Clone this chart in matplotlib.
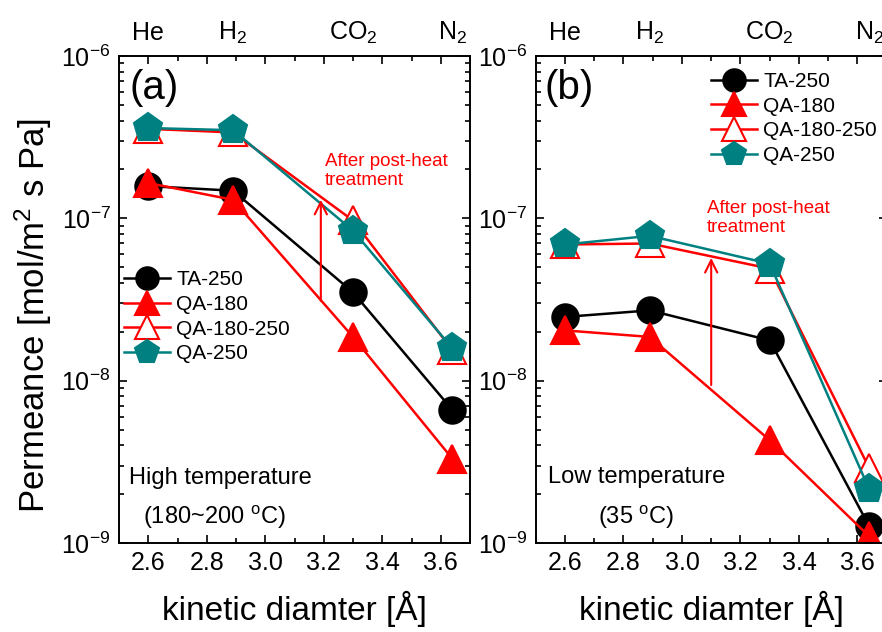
import matplotlib
matplotlib.use("Agg")
import matplotlib.pyplot as plt
from matplotlib.ticker import LogLocator, FuncFormatter, MultipleLocator, NullFormatter
import numpy as np

plt.rcParams['font.family'] = ['Liberation Sans', 'DejaVu Sans']
plt.rcParams['mathtext.fontset'] = 'custom'
plt.rcParams['mathtext.rm'] = 'Liberation Sans'
plt.rcParams['mathtext.it'] = 'Liberation Sans:italic'
plt.rcParams['mathtext.bf'] = 'Liberation Sans:bold'

# ---- data ----
gas_x = [2.6, 2.89, 3.3, 3.64]
gas_labels = ['He', 'H$_2$', 'CO$_2$', 'N$_2$']
series_names = ['TA-250', 'QA-180', 'QA-180-250', 'QA-250']

# (a) high temperature
ta250_a = [1.58e-7, 1.48e-7, 3.5e-8, 6.6e-9]
qa180_a = [1.65e-7, 1.30e-7, 1.86e-8, 3.3e-9]
qa180250_a = [3.56e-7, 3.38e-7, 9.7e-8, 1.54e-8]
qa250_a = [3.60e-7, 3.49e-7, 8.4e-8, 1.58e-8]

# (b) low temperature
ta250_b = [2.47e-8, 2.71e-8, 1.77e-8, 1.27e-9]
qa180_b = [2.04e-8, 1.86e-8, 4.3e-9, 1.1e-9]
qa180250_b = [6.9e-8, 7.0e-8, 4.9e-8, 2.9e-9]
qa250_b = [6.9e-8, 7.8e-8, 5.25e-8, 2.15e-9]

# arrows (x, from, to)
arrow_a = (3.19, 3.1e-8, 1.3e-7)
arrow_b = (3.10, 9.4e-9, 5.7e-8)

styles = [
    dict(color='black', marker='o', ms=19, mfc='black', mec='black'),
    dict(color='red', marker='^', ms=20, mfc='red', mec='red'),
    dict(color='red', marker='^', ms=20, mfc='white', mec='red'),
    dict(color='#008080', marker='p', ms=21, mfc='#008080', mec='#008080'),
]

fig = plt.figure(figsize=(8.82, 6.32), dpi=100)
axw = 351 / 882
axh = 487 / 632
axb = 1 - 543 / 632
ax_a = fig.add_axes([119 / 882, axb, axw, axh])
ax_b = fig.add_axes([535.7 / 882, axb, axw, axh])


def fmt(v, pos):
    if v <= 0:
        return ''
    e = int(round(np.log10(v)))
    return r'$\mathregular{10^{%d}}$' % e


def setup(ax):
    ax.set_yscale('log')
    ax.set_ylim(1e-9, 1e-6)
    ax.set_xlim(2.5, 3.7)
    ax.xaxis.set_major_locator(MultipleLocator(0.2))
    ax.xaxis.set_minor_locator(MultipleLocator(0.1))
    ax.xaxis.set_major_formatter(FuncFormatter(lambda v, p: '%.1f' % v))
    ax.yaxis.set_major_locator(LogLocator(base=10, numticks=10))
    ax.yaxis.set_minor_locator(LogLocator(base=10, subs=np.arange(2, 10), numticks=20))
    ax.yaxis.set_major_formatter(FuncFormatter(fmt))
    ax.yaxis.set_minor_formatter(NullFormatter())
    ax.tick_params(which='both', direction='in', top=True, right=True, labelsize=18, width=1.2)
    ax.tick_params(which='major', length=6, pad=6)
    ax.tick_params(which='minor', length=3.5)
    for s in ax.spines.values():
        s.set_linewidth(1.4)
    ax.set_xlabel('kinetic diamter [Å]', fontsize=24, labelpad=11)
    for gx, gl in zip(gas_x, gas_labels):
        ax.text(gx, 1.033, gl, transform=ax.get_xaxis_transform(), ha='center', va='baseline', fontsize=18)


def plot_series(ax, data):
    handles = []
    for name, ys, st in zip(series_names, data, styles):
        h, = ax.plot(gas_x, ys, lw=1.8, label=name, mew=1.5, **st)
        handles.append(h)
    return handles


for ax in (ax_a, ax_b):
    setup(ax)

plot_series(ax_a, [ta250_a, qa180_a, qa180250_a, qa250_a])
plot_series(ax_b, [ta250_b, qa180_b, qa180250_b, qa250_b])

ax_a.set_ylabel('Permeance [mol/m$^2$ s Pa]', fontsize=25)
ax_a.yaxis.set_label_coords(-0.185, 0.466)

leg_kw = dict(frameon=False, fontsize=15, borderpad=0, borderaxespad=0, labelspacing=0.27,
              handlelength=2.2, handletextpad=0.3, markerscale=0.85)
ax_a.legend(loc='upper left', bbox_to_anchor=(0.015, 0.56), **leg_kw)
ax_b.legend(loc='upper left', bbox_to_anchor=(0.50, 0.967), **leg_kw)

# arrows and annotations
for ax, arr, tx, ty in ((ax_a, arrow_a, 3.205, 2.53e-7), (ax_b, arrow_b, 3.085, 1.3e-7)):
    ax.annotate('', xy=(arr[0], arr[2]), xytext=(arr[0], arr[1]),
                arrowprops=dict(arrowstyle='->', color='red', lw=1.5, mutation_scale=22,
                                shrinkA=0, shrinkB=0))
    ax.text(tx, ty, 'After post-heat\ntreatment', color='red', fontsize=13.5, ha='left', va='top',
            linespacing=1.15)

ax_a.text(0.031, 0.934, '(a)', transform=ax_a.transAxes, fontsize=29, ha='left', va='center')
ax_b.text(0.026, 0.934, '(b)', transform=ax_b.transAxes, fontsize=29, ha='left', va='center')

ax_a.text(0.029, 0.133, 'High temperature', transform=ax_a.transAxes, fontsize=17, ha='left', va='center')
ax_a.text(0.068, 0.053, '(180~200 $^{\\mathregular{o}}$C)', transform=ax_a.transAxes, fontsize=17,
          ha='left', va='center')
ax_b.text(0.035, 0.135, 'Low temperature', transform=ax_b.transAxes, fontsize=17, ha='left', va='center')
ax_b.text(0.178, 0.053, '(35 $^{\\mathregular{o}}$C)', transform=ax_b.transAxes, fontsize=17,
          ha='left', va='center')

fig.savefig('out.png', dpi=100)
